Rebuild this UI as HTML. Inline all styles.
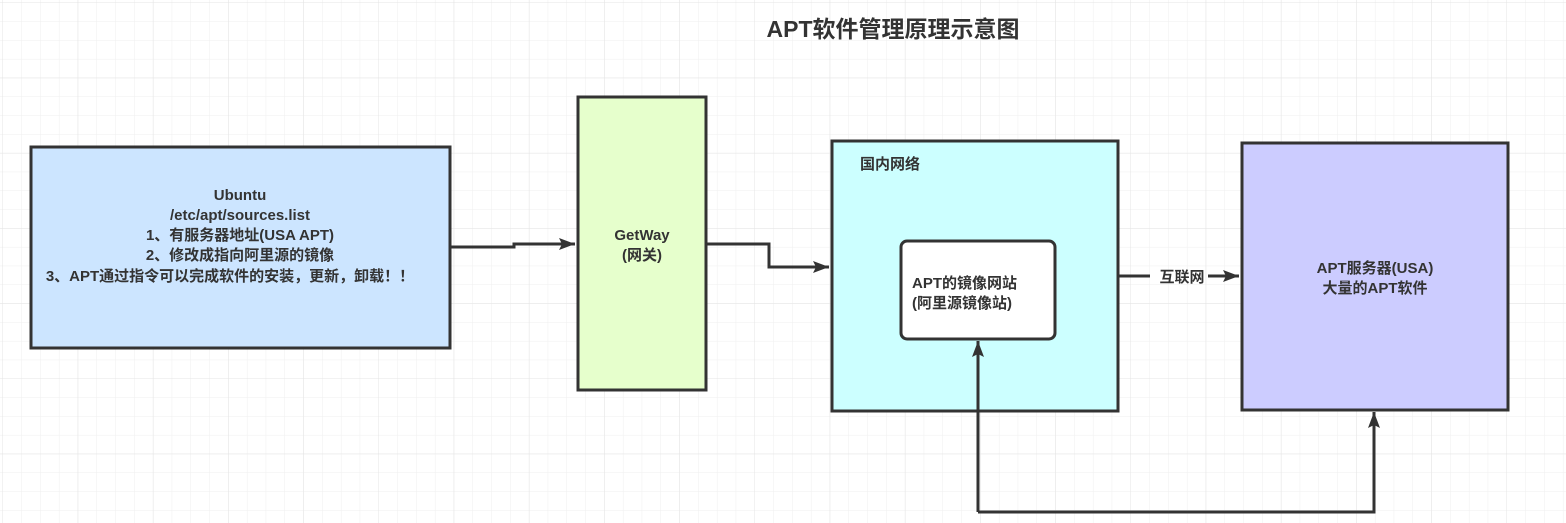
<!DOCTYPE html>
<html><head><meta charset="utf-8"><style>
html,body{margin:0;padding:0;background:#fff;}
svg{display:block;}
text{font-family:"Liberation Sans","Noto Sans CJK SC",sans-serif;font-weight:bold;fill:#333;}
</style></head><body>
<svg width="1566" height="523" viewBox="0 0 1566 523" xmlns="http://www.w3.org/2000/svg">
<defs>
<pattern id="g" width="18.8" height="18.8" patternUnits="userSpaceOnUse" x="3" y="3">
<path d="M18.8 0V18.8M0 18.8H18.8" stroke="#efefef" stroke-width="1" fill="none"/>
</pattern>
<pattern id="G" width="75.2" height="75.2" patternUnits="userSpaceOnUse" x="3" y="3">
<path d="M75.2 0V75.2M0 75.2H75.2" stroke="#e4e4e4" stroke-width="1" fill="none"/>
</pattern>
<marker id="a" markerWidth="10" markerHeight="10" refX="9" refY="5" orient="auto" markerUnits="userSpaceOnUse">
<path d="M0 1L10 5L0 9Z" fill="#333"/>
</marker>
<marker id="b" viewBox="0 0 16 12" markerWidth="16" markerHeight="12" refX="16" refY="6" orient="auto" markerUnits="userSpaceOnUse">
<path d="M0 0L16 6L0 12L3 6Z" fill="#333"/>
</marker>
</defs>
<rect width="1566" height="523" fill="url(#g)"/>
<rect width="1566" height="523" fill="url(#G)"/>
<text x="893" y="37" font-size="23" text-anchor="middle">APT软件管理原理示意图</text>

<rect x="31" y="147" width="419" height="201" fill="#cce5ff" stroke="#333" stroke-width="3"/>
<g font-size="15" text-anchor="middle">
<text x="240" y="200">Ubuntu</text>
<text x="240" y="220">/etc/apt/sources.list</text>
<text x="240" y="240">1、有服务器地址(USA APT)</text>
<text x="240" y="260">2、修改成指向阿里源的镜像</text>
<text x="230" y="281">3、APT通过指令可以完成软件的安装，更新，卸载！！</text>
</g>

<rect x="578" y="97" width="128" height="293" fill="#e6ffcc" stroke="#333" stroke-width="3"/>
<text x="642" y="240" font-size="15" text-anchor="middle">GetWay</text>
<text x="642" y="260" font-size="15" text-anchor="middle">(网关)</text>

<rect x="832" y="141" width="286" height="270" fill="#ccffff" stroke="#333" stroke-width="3"/>
<text x="860" y="169" font-size="15">国内网络</text>
<rect x="901" y="241" width="154" height="98" rx="6" fill="#fff" stroke="#333" stroke-width="3"/>
<text x="912" y="288" font-size="15">APT的镜像网站</text>
<text x="912" y="308" font-size="15">(阿里源镜像站)</text>

<rect x="1242" y="143" width="266" height="267" fill="#ccccff" stroke="#333" stroke-width="3"/>
<text x="1375" y="273" font-size="15" text-anchor="middle">APT服务器(USA)</text>
<text x="1375" y="293" font-size="15" text-anchor="middle">大量的APT软件</text>

<g stroke="#333" stroke-width="3" fill="none">
<path d="M450 247H514V244H575" marker-end="url(#b)"/>
<path d="M706 244H769V267H829" marker-end="url(#b)"/>
<path d="M1118 276H1150"/>
<path d="M1208 276H1239" marker-end="url(#b)"/>
<path d="M978 512V341" marker-end="url(#b)"/>
<path d="M978 512H1374V412" marker-end="url(#b)"/>
</g>
<text x="1182" y="282" font-size="15" text-anchor="middle">互联网</text>
</svg>
</body></html>
